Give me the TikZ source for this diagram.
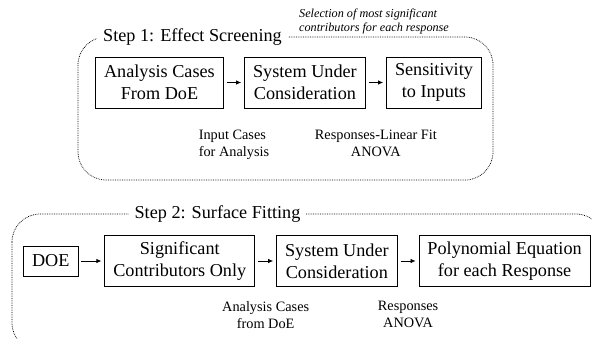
\documentclass[tikz,border=0pt]{standalone}
\usepackage{fontspec}
\setmainfont{Liberation Serif}
\usetikzlibrary{matrix,arrows.meta}

\tikzset{
  box/.style={draw, line width=0.8pt, align=center, inner xsep=8.5pt, minimum height=51pt,
    font=\fontsize{18.2}{21.8}\selectfont},
  smallbox/.style={box, minimum height=30pt},
  stepframe/.style={draw=black, densely dotted, line width=0.75pt, rounded corners=28pt},
  steptitle/.style={fill=white, inner xsep=6pt, font=\fontsize{18.2}{21.8}\selectfont},
  remark/.style={inner sep=0pt, font=\fontsize{14.3}{17.2}\selectfont},
  aside/.style={inner sep=0pt, align=left, font=\itshape\fontsize{12.2}{14}\selectfont},
  flow/.style={-{Latex[length=5pt,width=4.5pt]}, line width=0.8pt, shorten <=3pt, shorten >=3pt}
}

\begin{document}
\begin{tikzpicture}[x=1pt, y=-1pt]
\useasboundingbox (0,0) rectangle (592,338);

% dotted frames of the two steps
\draw[stepframe] (78,37) rectangle (493,180);
\draw[stepframe] (12,214) rectangle (604,351);
\node[steptitle] (title1) at (192.5,37) {Step 1: Effect Screening};
\node[steptitle] (title2) at (217.5,214) {Step 2: Surface Fitting};
\node[aside, anchor=west] (note) at (299,22) {Selection of most significant\\contributors for each response};

% step 1
\matrix (screen) [column sep=20.5pt, inner sep=0pt, anchor=west] at (95,82.5)
{
	\node[box] (cases) {Analysis Cases\\From DoE}; &
	\node[box] (sys1) {System Under\\Consideration}; &
	\node[box] (sens) {Sensitivity\\to Inputs}; \\
};
\path[flow]
(cases) edge node [remark, below=47pt, align=left] {Input Cases\\for Analysis} (sys1)
(sys1) edge node [remark, below=47pt, align=center] {Responses-Linear Fit\\ANOVA} (sens);

% step 2
\matrix (surf) [column sep=21pt, inner sep=0pt, anchor=west] at (23,261)
{
	\node[smallbox] (doe) {DOE}; &[5pt]
	\node[box] (signif) {Significant\\Contributors Only}; &
	\node[box] (sys2) {System Under\\Consideration}; &
	\node[box] (poly) {Polynomial Equation\\for each Response}; \\
};
\path[flow]
(doe) edge (signif)
(signif) edge node [remark, below=40pt, align=center] {Analysis Cases\\from DoE} (sys2)
(sys2) edge node [remark, below=40pt, align=center] {Responses\\ANOVA} (poly);
\end{tikzpicture}
\end{document}
